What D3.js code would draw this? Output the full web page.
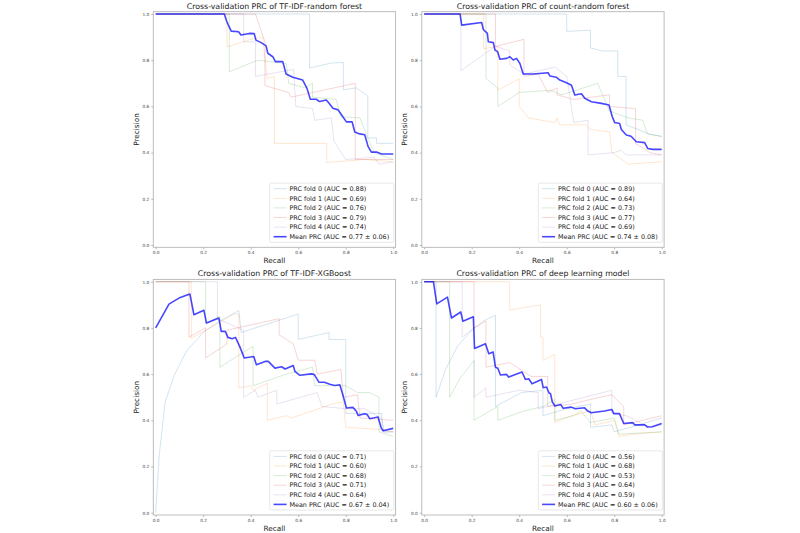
<!DOCTYPE html>
<html>
<head>
<meta charset="utf-8">
<script src="https://cdn.jsdelivr.net/npm/d3@7"></script>
<style>
body { margin: 0; background: #fff; }
svg { font-family: "DejaVu Sans", sans-serif; }
</style>
</head>
<body>
<svg id="chart" width="800" height="533"></svg>
<script>
// [recall, precision] points
const tfidfRfFold0 = [[0,1],[0.648,1],[0.648,0.766],[0.74,0.788],[0.79,0.79],[0.79,0.672],[0.845,0.68],[0.893,0.645],[0.893,0.463],[0.93,0.463],[0.93,0.44],[1,0.44]];
const tfidfRfFold1 = [[0,1],[0.30,1],[0.30,0.857],[0.40,0.89],[0.45,0.90],[0.47,0.72],[0.50,0.73],[0.50,0.44],[0.72,0.44],[0.72,0.357],[0.88,0.37],[1,0.36]];
const tfidfRfFold2 = [[0,1],[0.31,1],[0.31,0.75],[0.43,0.80],[0.55,0.785],[0.56,0.70],[0.63,0.68],[0.66,0.70],[0.66,0.64],[0.76,0.63],[0.78,0.555],[0.86,0.55],[0.89,0.47],[0.92,0.40],[1,0.37]];
const tfidfRfFold3 = [[0,1],[0.42,1],[0.46,0.88],[0.46,0.69],[0.56,0.66],[0.57,0.64],[0.84,0.70],[0.84,0.37],[1,0.37]];
const tfidfRfFold4 = [[0,1],[0.37,1],[0.37,0.88],[0.42,0.88],[0.42,0.73],[0.58,0.76],[0.59,0.60],[0.66,0.59],[0.67,0.54],[0.74,0.55],[0.75,0.45],[0.80,0.37],[0.92,0.38],[0.94,0.35],[1,0.36]];
const tfidfRfMean = [[0,1],[0.289,1],[0.298,0.971],[0.306,0.952],[0.318,0.926],[0.349,0.923],[0.359,0.909],[0.394,0.916],[0.415,0.915],[0.422,0.887],[0.444,0.876],[0.465,0.862],[0.472,0.830],[0.493,0.815],[0.504,0.794],[0.535,0.794],[0.549,0.740],[0.577,0.726],[0.619,0.714],[0.637,0.678],[0.651,0.631],[0.676,0.631],[0.690,0.621],[0.718,0.628],[0.730,0.614],[0.746,0.592],[0.768,0.585],[0.782,0.564],[0.803,0.533],[0.827,0.533],[0.838,0.489],[0.859,0.481],[0.880,0.477],[0.894,0.427],[0.908,0.402],[0.932,0.402],[0.951,0.394],[1,0.394]];
const tfidfRfAuc = ["0.88", "0.69", "0.76", "0.79", "0.74"];
const tfidfRfMeanAuc = ["0.77", "0.06"];

const countRfFold0 = [[0,1],[0.60,1],[0.60,0.925],[0.70,0.93],[0.70,0.853],[0.75,0.84],[0.815,0.84],[0.815,0.73],[0.85,0.73],[0.85,0.52],[0.95,0.48],[1,0.47]];
const countRfFold1 = [[0,1],[0.25,1],[0.25,0.85],[0.31,0.86],[0.31,0.67],[0.40,0.72],[0.40,0.60],[0.44,0.55],[0.55,0.53],[0.56,0.55],[0.57,0.52],[0.68,0.52],[0.70,0.50],[0.78,0.49],[0.79,0.40],[0.86,0.35],[1,0.36]];
const countRfFold2 = [[0,1],[0.26,1],[0.26,0.72],[0.31,0.68],[0.31,0.60],[0.40,0.66],[0.53,0.67],[0.58,0.65],[0.73,0.70],[0.78,0.58],[0.86,0.55],[0.92,0.54],[0.94,0.48],[1,0.47]];
const countRfFold3 = [[0,1],[0.30,1],[0.30,0.86],[0.42,0.89],[0.42,0.73],[0.48,0.74],[0.52,0.66],[0.56,0.68],[0.56,0.65],[0.63,0.63],[0.78,0.65],[0.78,0.60],[0.89,0.59],[0.89,0.44],[0.95,0.40],[1,0.39]];
const countRfFold4 = [[0,1],[0.155,1],[0.155,0.755],[0.30,0.86],[0.36,0.84],[0.36,0.78],[0.42,0.74],[0.55,0.77],[0.60,0.73],[0.63,0.53],[0.69,0.54],[0.69,0.39],[0.80,0.40],[0.83,0.41],[0.85,0.39],[1,0.39]];
const countRfMean = [[0,1],[0.151,1],[0.158,0.952],[0.242,0.963],[0.249,0.933],[0.266,0.916],[0.270,0.880],[0.291,0.876],[0.298,0.844],[0.309,0.837],[0.319,0.804],[0.347,0.808],[0.361,0.815],[0.375,0.801],[0.389,0.808],[0.403,0.786],[0.417,0.740],[0.459,0.740],[0.522,0.746],[0.529,0.732],[0.557,0.726],[0.571,0.714],[0.599,0.702],[0.620,0.692],[0.634,0.649],[0.662,0.655],[0.676,0.635],[0.704,0.620],[0.746,0.613],[0.778,0.606],[0.792,0.555],[0.802,0.530],[0.823,0.526],[0.830,0.500],[0.851,0.476],[0.871,0.471],[0.893,0.447],[0.928,0.443],[0.941,0.418],[0.962,0.414],[1,0.414]];
const countRfAuc = ["0.89", "0.64", "0.73", "0.77", "0.69"];
const countRfMeanAuc = ["0.74", "0.08"];

const xgbFold0 = [[0,0],[0.015,0.25],[0.04,0.48],[0.08,0.6],[0.13,0.7],[0.2,0.78],[0.27,0.83],[0.35,0.875],[0.36,0.78],[0.6,0.86],[0.6,0.75],[0.73,0.78],[0.73,0.75],[0.80,0.75],[0.80,0.43],[0.95,0.43],[0.96,0.35],[1,0.35]];
const xgbFold1 = [[0,1],[0.15,1],[0.15,0.755],[0.33,0.86],[0.35,0.86],[0.35,0.54],[0.40,0.55],[0.41,0.53],[0.47,0.56],[0.47,0.40],[0.55,0.42],[0.57,0.41],[0.66,0.44],[0.74,0.47],[0.79,0.48],[0.80,0.37],[0.95,0.36],[1,0.35]];
const xgbFold2 = [[0,1],[0.21,1],[0.21,0.82],[0.27,0.85],[0.27,0.63],[0.41,0.72],[0.41,0.55],[0.55,0.60],[0.66,0.63],[0.67,0.55],[0.80,0.55],[0.85,0.52],[0.90,0.52],[0.94,0.50],[0.94,0.35],[1,0.33]];
const xgbFold3 = [[0,1],[0.14,1],[0.14,0.76],[0.21,0.80],[0.21,0.67],[0.30,0.73],[0.30,0.79],[0.52,0.84],[0.52,0.77],[0.58,0.73],[0.60,0.66],[0.67,0.66],[0.68,0.60],[0.78,0.62],[0.79,0.50],[0.85,0.51],[0.86,0.41],[1,0.40]];
const xgbFold4 = [[0,1],[0.26,1],[0.26,0.84],[0.37,0.79],[0.37,0.50],[0.42,0.53],[0.43,0.50],[0.51,0.53],[0.51,0.47],[0.61,0.50],[0.68,0.52],[0.70,0.46],[0.80,0.45],[0.88,0.45],[0.95,0.41],[0.96,0.35],[1,0.35]];
const xgbMean = [[0,0.80],[0.056,0.903],[0.098,0.929],[0.144,0.947],[0.161,0.857],[0.203,0.876],[0.214,0.821],[0.266,0.843],[0.276,0.785],[0.293,0.785],[0.304,0.759],[0.322,0.753],[0.336,0.759],[0.354,0.719],[0.373,0.670],[0.413,0.676],[0.424,0.641],[0.461,0.655],[0.474,0.655],[0.502,0.626],[0.53,0.632],[0.545,0.622],[0.579,0.637],[0.586,0.612],[0.607,0.595],[0.656,0.601],[0.668,0.598],[0.687,0.565],[0.71,0.565],[0.733,0.556],[0.754,0.551],[0.775,0.554],[0.785,0.52],[0.803,0.453],[0.830,0.456],[0.845,0.439],[0.852,0.421],[0.880,0.428],[0.89,0.425],[0.901,0.407],[0.936,0.414],[0.950,0.366],[0.957,0.355],[1,0.365]];
const xgbAuc = ["0.71", "0.60", "0.68", "0.71", "0.64"];
const xgbMeanAuc = ["0.67", "0.04"];

const dlFold0 = [[0,1],[0.05,1],[0.05,0.5],[0.09,0.62],[0.14,0.72],[0.2,0.79],[0.25,0.83],[0.30,0.855],[0.30,0.46],[0.41,0.52],[0.50,0.53],[0.50,0.42],[0.60,0.45],[0.70,0.47],[0.70,0.37],[0.79,0.38],[0.80,0.35],[0.87,0.37],[1,0.41]];
const dlFold1 = [[0,1],[0.36,1],[0.36,0.877],[0.49,0.90],[0.49,0.76],[0.50,0.76],[0.50,0.66],[0.55,0.685],[0.55,0.39],[0.62,0.42],[0.70,0.44],[0.72,0.38],[0.80,0.40],[0.82,0.33],[0.88,0.34],[1,0.35]];
const dlFold2 = [[0,1],[0.107,1],[0.107,0.50],[0.15,0.58],[0.21,0.66],[0.21,0.40],[0.26,0.43],[0.31,0.46],[0.31,0.40],[0.42,0.44],[0.50,0.46],[0.55,0.49],[0.55,0.40],[0.63,0.42],[0.66,0.44],[0.70,0.39],[0.80,0.41],[0.82,0.34],[1,0.35]];
const dlFold3 = [[0,1],[0.21,1],[0.21,0.80],[0.26,0.83],[0.26,0.63],[0.36,0.65],[0.45,0.59],[0.52,0.59],[0.52,0.46],[0.62,0.47],[0.74,0.50],[0.79,0.51],[0.84,0.46],[0.84,0.38],[0.92,0.40],[1,0.42]];
const dlFold4 = [[0,1],[0.16,1],[0.16,0.76],[0.21,0.80],[0.21,0.50],[0.26,0.54],[0.26,0.50],[0.40,0.53],[0.48,0.52],[0.48,0.45],[0.60,0.48],[0.79,0.53],[0.79,0.43],[0.85,0.42],[0.95,0.37],[1,0.38]];
const dlMean = [[0,1],[0.039,1],[0.053,0.904],[0.098,0.933],[0.115,0.843],[0.154,0.869],[0.163,0.829],[0.207,0.848],[0.212,0.711],[0.258,0.731],[0.272,0.688],[0.290,0.696],[0.300,0.630],[0.31,0.625],[0.321,0.596],[0.346,0.599],[0.356,0.587],[0.412,0.609],[0.426,0.577],[0.44,0.58],[0.454,0.558],[0.494,0.577],[0.501,0.541],[0.515,0.544],[0.525,0.519],[0.532,0.515],[0.539,0.481],[0.550,0.462],[0.575,0.468],[0.585,0.452],[0.619,0.457],[0.636,0.450],[0.675,0.454],[0.689,0.440],[0.703,0.433],[0.759,0.440],[0.790,0.447],[0.798,0.429],[0.822,0.429],[0.840,0.386],[0.877,0.390],[0.887,0.380],[0.927,0.381],[0.940,0.371],[0.96,0.372],[1,0.386]];
const dlAuc = ["0.56", "0.68", "0.53", "0.64", "0.59"];
const dlMeanAuc = ["0.60", "0.06"];

const panelTitles = [
    "Cross-validation PRC of TF-IDF-random forest",
    "Cross-validation PRC of count-random forest",
    "Cross-validation PRC of TF-IDF-XGBoost",
    "Cross-validation PRC of deep learning model"
];
const ticks = [0.0, 0.2, 0.4, 0.6, 0.8, 1.0];
const foldColors = ["#1f77b4", "#ff7f0e", "#2ca02c", "#d62728", "#9467bd"];

const panels = [
    {title: panelTitles[0], folds: [tfidfRfFold0, tfidfRfFold1, tfidfRfFold2, tfidfRfFold3, tfidfRfFold4], mean: tfidfRfMean, auc: tfidfRfAuc, meanAuc: tfidfRfMeanAuc},
    {title: panelTitles[1], folds: [countRfFold0, countRfFold1, countRfFold2, countRfFold3, countRfFold4], mean: countRfMean, auc: countRfAuc, meanAuc: countRfMeanAuc},
    {title: panelTitles[2], folds: [xgbFold0, xgbFold1, xgbFold2, xgbFold3, xgbFold4], mean: xgbMean, auc: xgbAuc, meanAuc: xgbMeanAuc},
    {title: panelTitles[3], folds: [dlFold0, dlFold1, dlFold2, dlFold3, dlFold4], mean: dlMean, auc: dlAuc, meanAuc: dlMeanAuc}
];

const lefts = [153.3, 421.8];
const tops = [11.7, 279.4];
const plotW = 242.3, plotH = 235.6;
const foldOpacity = 0.22;

const svg = d3.select("#chart");

function drawPanel(p, left, top) {
    const x = d3.scaleLinear().domain([-0.01, 1.01]).range([left, left + plotW]);
    const y = d3.scaleLinear().domain([-0.01, 1.01]).range([top + plotH, top]);
    const g = svg.append("g");

    const xAxis = g.append("g")
        .attr("transform", "translate(0," + (top + plotH) + ")")
        .call(d3.axisBottom(x).tickValues(ticks).tickFormat(d3.format(".1f")).tickSize(2).tickPadding(1.5));
    const yAxis = g.append("g")
        .attr("transform", "translate(" + left + ",0)")
        .call(d3.axisLeft(y).tickValues(ticks).tickFormat(d3.format(".1f")).tickSize(2).tickPadding(2));
    [xAxis, yAxis].forEach((a) => {
        a.select(".domain").remove();
        a.selectAll("line").attr("stroke", "#888").attr("stroke-width", 0.6);
        a.selectAll("text").attr("fill", "#444").style("font-size", "4.3px").style("font-family", "DejaVu Sans");
    });

    const line = d3.line().x((d) => x(d[0])).y((d) => y(d[1]));

    p.folds.forEach((f, i) => {
        g.append("path")
            .attr("d", line(f))
            .attr("fill", "none")
            .attr("stroke", foldColors[i])
            .attr("stroke-width", 0.9)
            .attr("stroke-opacity", foldOpacity);
    });

    g.append("path")
        .attr("d", line(p.mean))
        .attr("fill", "none")
        .attr("stroke", "#0000ff")
        .attr("stroke-width", 1.6)
        .attr("stroke-opacity", 0.72)
        .attr("stroke-linejoin", "round");

    g.append("rect")
        .attr("x", left).attr("y", top)
        .attr("width", plotW).attr("height", plotH)
        .attr("fill", "none")
        .attr("stroke", "#b5b5b5")
        .attr("stroke-width", 0.9);

    g.append("text")
        .attr("x", left + plotW / 2)
        .attr("y", top - 3.2)
        .attr("text-anchor", "middle")
        .attr("fill", "#222")
        .style("font-size", "7.8px")
        .text(p.title);

    g.append("text")
        .attr("x", left + plotW / 2)
        .attr("y", top + plotH + 15.5)
        .attr("text-anchor", "middle")
        .attr("fill", "#222")
        .style("font-size", "7.3px")
        .text("Recall");

    g.append("text")
        .attr("transform", "translate(" + (left - 14.5) + "," + (top + plotH / 2) + ") rotate(-90)")
        .attr("text-anchor", "middle")
        .attr("fill", "#222")
        .style("font-size", "7.3px")
        .text("Precision");

    // legend, lower right
    const labels = p.auc.map((a, i) => "PRC fold " + i + " (AUC = " + a + ")");
    labels.push("Mean PRC (AUC = " + p.meanAuc[0] + " \u00b1 " + p.meanAuc[1] + ")");
    const rowH = 9.6, padTop = 5.6;
    const boxH = padTop * 2 + rowH * 5;
    const boxBottom = top + plotH - 5;
    const boxTop = boxBottom - boxH;
    const lg = g.append("g");
    const box = lg.append("rect")
        .attr("y", boxTop).attr("height", boxH)
        .attr("rx", 1.5)
        .attr("fill", "#fff").attr("fill-opacity", 0.8)
        .attr("stroke", "#d6d6d6").attr("stroke-width", 0.6);
    const texts = labels.map((t, i) => lg.append("text")
        .attr("y", boxTop + padTop + i * rowH)
        .attr("dy", "0.35em")
        .attr("fill", "#222")
        .style("font-size", "6.4px")
        .text(t));
    const maxW = d3.max(texts, (t) => t.node().getComputedTextLength());
    const boxRight = left + plotW - 1.8;
    const textX = boxRight - 4.6 - maxW;
    const boxLeft = textX - 19.7;
    box.attr("x", boxLeft).attr("width", boxRight - boxLeft);
    texts.forEach((t) => t.attr("x", textX));
    labels.forEach((t, i) => {
        const ly = boxTop + padTop + i * rowH;
        lg.append("line")
            .attr("x1", boxLeft + 3.8).attr("x2", boxLeft + 16.8)
            .attr("y1", ly).attr("y2", ly)
            .attr("stroke", i < 5 ? foldColors[i] : "#0000ff")
            .attr("stroke-width", i < 5 ? 0.9 : 1.6)
            .attr("stroke-opacity", i < 5 ? foldOpacity : 0.72);
    });
}

panels.forEach((p, i) => {
    drawPanel(p, lefts[i % 2], tops[Math.floor(i / 2)]);
});
</script>
</body>
</html>
